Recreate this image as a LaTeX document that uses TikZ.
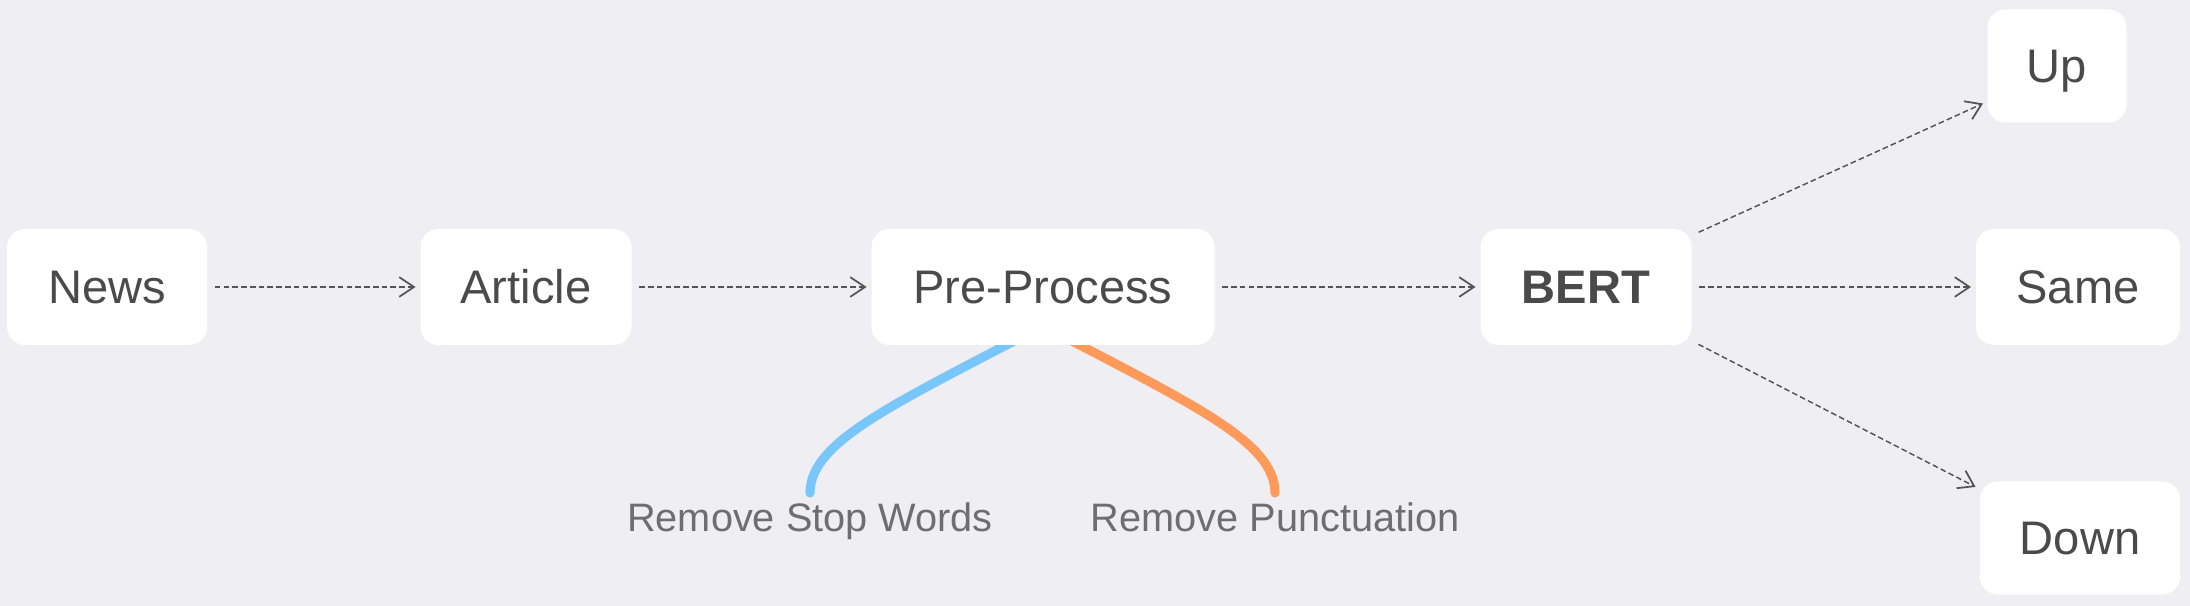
\documentclass[tikz,border=0pt]{standalone}
\usepackage{fontspec}
\setmainfont{Liberation Sans}
\usetikzlibrary{arrows.meta,backgrounds}

\definecolor{canvas}{RGB}{239,238,243}
\definecolor{boxtext}{RGB}{74,74,74}
\definecolor{subtext}{RGB}{110,110,110}
\definecolor{linkgray}{RGB}{85,85,85}
\definecolor{skyline}{HTML}{78C6FA}
\definecolor{orangeline}{HTML}{FF9A5B}

\begin{document}
\begin{tikzpicture}
    % Define styles
    \tikzset{
        box/.style={rectangle, fill=white, rounded corners=0.18cm, minimum height=1.16cm, inner sep=0pt, text=boxtext, font=\fontsize{13.4}{16}\selectfont, text height=12.4pt, text depth=2.8pt},
        sublabel/.style={text=subtext, font=\fontsize{11.3}{13}\selectfont, anchor=base, inner sep=0pt},
        arrow/.style={-{Straight Barb[length=4.2pt,width=5.6pt,line width=0.5pt]}, draw=linkgray, line width=0.42pt, dash pattern=on 1.6pt off 0.9pt, shorten <=2pt, shorten >=1.2pt},
        branch/.style={line width=2.6pt, line cap=round}
    }

    % Nodes
    \node[box, minimum width=2.00cm] (news_node) at (1.07,3.19) {News};
    \node[box, minimum width=2.11cm] (article_node) at (5.26,3.19) {Article};
    \node[box, minimum width=3.43cm] (preproc_node) at (10.43,3.19) {Pre-Process};
    \node[box, minimum width=2.11cm] (bert_node) at (15.86,3.19) {\bfseries BERT};
    \node[box, minimum width=1.39cm, minimum height=1.13cm] (up_node) at (20.57,5.40) {Up};
    \node[box, minimum width=2.04cm] (same_node) at (20.78,3.19) {Same};
    \node[box, minimum width=2.00cm, minimum height=1.13cm] (down_node) at (20.80,0.68) {Down};

    \node[sublabel] (stop_node) at (8.10,0.74) {Remove Stop Words};
    \node[sublabel] (punct_node) at (12.75,0.74) {Remove Punctuation};

    % Arrows
    \draw[arrow] (news_node) -- (article_node);
    \draw[arrow] (article_node) -- (preproc_node);
    \draw[arrow] (preproc_node) -- (bert_node);
    \draw[arrow] (bert_node.26) -- (up_node.207);
    \draw[arrow] (bert_node) -- (same_node);
    \draw[arrow] (bert_node.-27) -- (down_node.154);

    % Branches under the pre-process box
    \begin{scope}[on background layer]
        \fill[canvas] (0,0) rectangle (21.9,6.06);
        \draw[branch, skyline] ([yshift=0.39cm]stop_node.base) .. controls +(0,0.53) and +(-1.55,-0.82) .. ([shift={(0.11,-0.33)}]preproc_node.center);
        \draw[branch, orangeline] ([yshift=0.39cm]punct_node.base) .. controls +(0,0.53) and +(1.55,-0.82) .. ([shift={(-0.11,-0.33)}]preproc_node.center);
    \end{scope}
\end{tikzpicture}
\end{document}
